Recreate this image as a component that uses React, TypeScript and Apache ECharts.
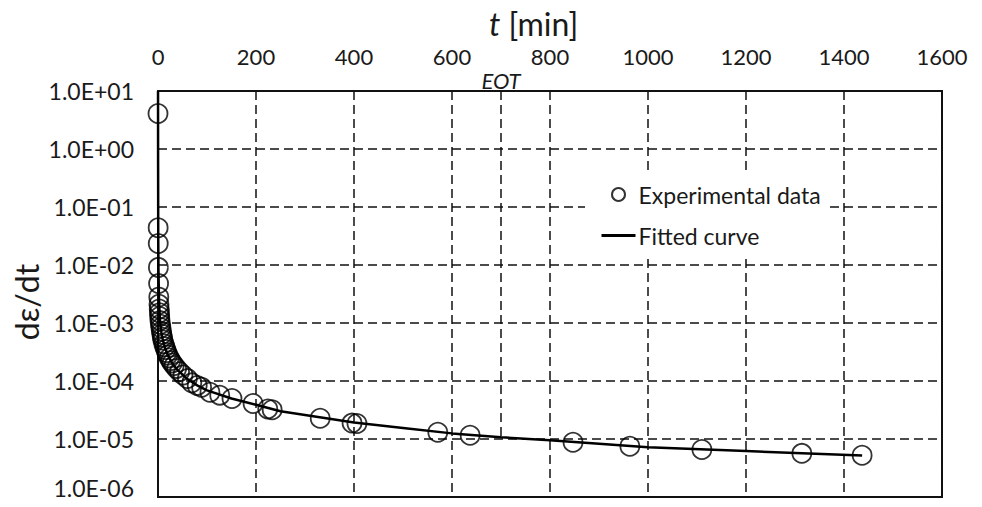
import React, { useEffect, useRef } from "react";
import * as echarts from "echarts";

const expT = [0, 0.3, 0.5, 0.8, 1.2, 1.6, 2, 2.5, 3, 3.5, 4, 5, 6, 7, 8, 9, 10, 12, 14, 16, 18, 20, 23, 26, 29, 33, 38, 44, 51, 60, 69, 80, 89, 106, 126, 151, 194, 224, 233, 331, 396, 406, 571, 637, 847, 963, 1110, 1314, 1437];
const expY = [4.1, 0.044, 0.0235, 0.0091, 0.0048, 0.0028, 0.0021, 0.00175, 0.0015, 0.0013, 0.0011, 9.5e-4, 8.3e-4, 7.2e-4, 6.4e-4, 5.7e-4, 5.1e-4, 4.4e-4, 3.9e-4, 3.5e-4, 3.1e-4, 2.8e-4, 2.5e-4, 2.25e-4, 2.05e-4, 1.85e-4, 1.65e-4, 1.45e-4, 1.27e-4, 1.1e-4, 9.3e-5, 8.4e-5, 7.8e-5, 6.4e-5, 5.7e-5, 5.0e-5, 4.1e-5, 3.3e-5, 3.2e-5, 2.28e-5, 1.88e-5, 1.85e-5, 1.31e-5, 1.16e-5, 8.8e-6, 7.5e-6, 6.6e-6, 5.66e-6, 5.24e-6];

const curveT = [0.05, 0.2, 0.5, 1, 2, 4, 7, 10, 15, 20, 30, 40, 60, 80, 100, 150, 200, 250, 300, 400, 500, 600, 700, 800, 1000, 1200, 1437];
const curveY = [10, 0.5, 0.03, 0.008, 0.0026, 0.0011, 6.8e-4, 5.0e-4, 3.6e-4, 2.8e-4, 1.95e-4, 1.55e-4, 1.08e-4, 8.4e-5, 6.9e-5, 5.0e-5, 3.9e-5, 3.0e-5, 2.6e-5, 1.92e-5, 1.55e-5, 1.25e-5, 1.07e-5, 9.5e-6, 7.2e-6, 6.2e-6, 5.2e-6];

const xMin = 0, xMax = 1600, xStep = 200;
const yMin = 1e-6, yMax = 10;
const eotT = 700;
const eotTop = 10, eotBottom = 1e-5;

const FONT = "Lato, 'Noto Sans', sans-serif";
const TXT = "#1a1a1a";

function sci(v: number): string {
  const e = Math.round(Math.log10(v));
  const m = v / Math.pow(10, e);
  const s = e < 0 ? "-" : "+";
  const a = Math.abs(e);
  return m.toFixed(1) + "E" + s + (a < 10 ? "0" + a : String(a));
}

export default function App() {
  const ref = useRef<HTMLDivElement>(null);
  useEffect(() => {
    const chart = echarts.init(ref.current!, null, { renderer: "svg" });
    const dash = { color: "#111", width: 1.5, type: [9, 5] as any };
    chart.setOption({
      animation: false,
      backgroundColor: "#fff",
      color: ["#000", "#000"],
      textStyle: { fontFamily: FONT },
      title: {
        text: "{i|t} [min]",
        left: 484,
        top: 2,
        textStyle: {
          fontFamily: FONT,
          fontSize: 32,
          fontWeight: "normal",
          color: TXT,
          rich: { i: { fontStyle: "italic", fontSize: 32, fontFamily: FONT, color: TXT } },
        },
      },
      graphic: [
        {
          type: "text",
          x: 26,
          y: 302,
          rotation: Math.PI / 2,
          style: {
            text: "dε/dt",
            fontSize: 32,
            fontFamily: FONT,
            fill: TXT,
            align: "center",
            verticalAlign: "middle",
          },
        },
      ],
      legend: {
        orient: "vertical",
        left: 585,
        top: 171,
        padding: [12, 7, 7, 15],
        backgroundColor: "#fff",
        itemWidth: 34,
        itemHeight: 13,
        itemGap: 18,
        textStyle: { fontFamily: FONT, fontSize: 23, color: TXT, padding: [0, 0, 0, -2] },
        data: [
          { name: "Experimental data", icon: "circle", itemStyle: { color: "#fff", borderColor: "#000", borderWidth: 2 } },
          { name: "Fitted curve", itemStyle: { opacity: 0 }, lineStyle: { color: "#000", width: 3, opacity: 1 } },
        ],
      },
      grid: {
        left: 158,
        top: 91,
        right: 40,
        bottom: 10,
        show: true,
        borderColor: "#111",
        borderWidth: 2,
        backgroundColor: "transparent",
      },
      xAxis: {
        type: "value",
        position: "top",
        min: xMin,
        max: xMax,
        interval: xStep,
        axisLine: { show: true, lineStyle: { color: "#111", width: 2 } },
        axisTick: { show: false },
        axisLabel: { fontSize: 22, color: TXT, fontFamily: FONT, margin: 24, formatter: (v: number) => String(v) },
        splitLine: { show: true, lineStyle: dash },
      },
      yAxis: {
        type: "log",
        logBase: 10,
        min: yMin,
        max: yMax,
        axisLine: { show: true, lineStyle: { color: "#111", width: 2 } },
        axisTick: { show: false },
        axisLabel: {
          fontSize: 23,
          color: TXT,
          fontFamily: FONT,
          margin: 24,
          formatter: (v: number) => (Math.abs(v - yMin) < yMin * 0.01 ? "{b|" + sci(v) + "}" : sci(v)),
          rich: { b: { fontSize: 23, fontFamily: FONT, color: TXT, padding: [0, 0, 18, 0] } },
        },
        splitLine: { show: true, lineStyle: dash },
      },
      series: [
        {
          name: "Experimental data",
          type: "scatter",
          symbol: "circle",
          symbolSize: 19,
          itemStyle: { color: "rgba(0,0,0,0)", borderColor: "#000", borderWidth: 1.8 },
          data: expT.map((t, i) => [t, expY[i]]),
          markLine: {
            silent: true,
            symbol: ["none", "none"],
            lineStyle: { color: "#111", width: 1.5, type: [9, 5] as any },
            label: {
              show: true,
              position: "start",
              formatter: "EOT",
              fontStyle: "italic",
              fontSize: 22,
              fontFamily: FONT,
              color: TXT,
              distance: 0,
            },
            data: [[{ coord: [eotT, eotTop] }, { coord: [eotT, eotBottom] }]],
          },
        },
        {
          name: "Fitted curve",
          type: "line",
          symbol: "none",
          itemStyle: { color: "#000" },
          lineStyle: { color: "#000", width: 2.5 },
          data: curveT.map((t, i) => [t, curveY[i]]),
        },
      ],
    });
    return () => chart.dispose();
  }, []);
  return <div ref={ref} style={{ width: 982, height: 507, margin: -8 }} />;
}
